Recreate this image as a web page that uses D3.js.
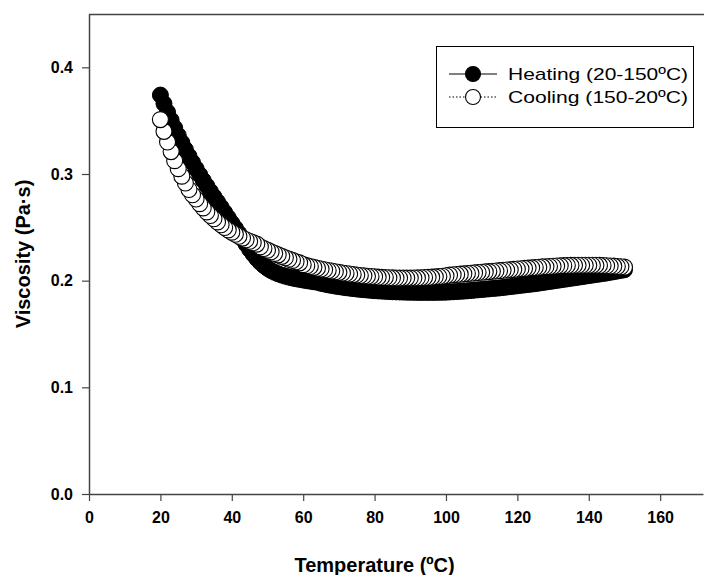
<!DOCTYPE html>
<html>
<head>
<meta charset="utf-8">
<script src="https://cdn.jsdelivr.net/npm/d3@7"></script>
<style>
  body { margin: 0; background: #fff; }
  svg { display: block; }
  text { font-family: "Liberation Sans", Arial, sans-serif; }
</style>
</head>
<body>
<svg id="chart" width="704" height="575"></svg>
<script>
// Temperatures of the measurement points (ºC)
const temperatures = [
  20,21,22,23,24,25,26,27,28,29,30,31,32,33,34,35,36,37,38,39,
  40,41,42,43,44,45,46,47,48,49,50,51,52,53,54,55,56,57,58,59,
  60,61,62,63,64,65,66,67,68,69,70,71,72,73,74,75,76,77,78,79,
  80,81,82,83,84,85,86,87,88,89,90,91,92,93,94,95,96,97,98,99,
  100,101,102,103,104,105,106,107,108,109,110,111,112,113,114,115,116,117,118,119,
  120,121,122,123,124,125,126,127,128,129,130,131,132,133,134,135,136,137,138,139,
  140,141,142,143,144,145,146,147,148,149,150
];

// Viscosity (Pa·s) on heating, one value per temperature above
const heating = [
  .374,.366,.358,.3505,.3432,.3362,.3295,.323,.3168,.3108,.305,.2994,.294,.2888,.2837,.2787,.2738,.2689,.264,.259,
  .254,.2492,.2442,.2392,.2342,.2293,.2248,.2207,.2171,.2141,.2116,.2095,.2078,.2064,.2052,.2042,.2033,.2025,.2018,.2012,
  .2006,.2,.1995,.199,.1985,.1975,.1968,.1961,.1955,.1949,.1944,.1939,.1934,.193,.1926,.1922,.1918,.1915,.1912,.1909,
  .1906,.1904,.1902,.19,.1898,.1896,.1895,.1894,.1893,.1892,.1891,.1891,.189,.189,.189,.189,.189,.189,.1891,.1891,
  .1892,.1894,.1896,.1898,.19,.1902,.1905,.1908,.1911,.1914,.1917,.192,.1923,.1926,.1929,.1932,.1936,.194,.1944,.1948,
  .1952,.1956,.196,.1964,.1968,.1972,.1977,.1982,.1987,.1992,.1997,.2002,.2007,.2012,.2017,.2022,.2027,.2032,.2037,.2042,
  .2047,.2052,.2057,.2062,.2067,.2072,.2078,.2084,.209,.2096,.2102
];

// Viscosity (Pa·s) on cooling, listed by the same temperatures (run went 150 -> 20 ºC)
const cooling = [
  .351,.340,.330,.321,.3125,.305,.298,.2915,.2855,.2805,.2765,.2722,.2682,.2645,.2611,.258,.2551,.2524,.2499,.2476,
  .2455,.2435,.2416,.2399,.2384,.237,.2356,.2343,.2318,.2302,.2286,.2271,.2256,.2242,.2228,.2215,.2202,.219,.2178,.2167,
  .215,.2141,.2133,.2125,.2117,.211,.2103,.2096,.209,.2084,.2078,.2072,.2067,.2062,.2057,.2053,.2049,.2045,.2042,.2039,
  .2036,.2033,.2031,.2029,.2027,.2026,.2025,.2024,.2024,.2024,.2024,.2025,.2026,.2027,.2029,.2031,.2033,.2036,.2039,.2042,
  .2046,.2052,.2055,.2058,.2061,.2064,.2067,.207,.2073,.2076,.2079,.2082,.2085,.2088,.2091,.2094,.2097,.21,.2103,.2106,
  .2109,.2112,.2115,.2118,.212,.2123,.2126,.2129,.2131,.2133,.2135,.2137,.2139,.2141,.2142,.2143,.2144,.2145,.2145,.2145,
  .2145,.2145,.2144,.2143,.2142,.214,.2138,.2136,.2133,.213,.2127
];

const xTicks = [0, 20, 40, 60, 80, 100, 120, 140, 160];
const yTicks = [0.0, 0.1, 0.2, 0.3, 0.4];
const seriesNames = ["Heating (20-150ºC)", "Cooling (150-20ºC)"];

const svg = d3.select("#chart");
const plotLeft = 89, plotRight = 703, plotTop = 14, plotBottom = 494;

const x = d3.scaleLinear().domain([0, 172]).range([plotLeft, plotRight]);
const y = d3.scaleLinear().domain([0, 0.45]).range([plotBottom, plotTop]);

const axisColor = "#444";

// Frame line along the top
svg.append("line")
  .attr("x1", plotLeft).attr("x2", plotRight + 1)
  .attr("y1", plotTop + 0.5).attr("y2", plotTop + 0.5)
  .attr("stroke", axisColor).attr("stroke-width", 1.5);

// X axis
const gx = svg.append("g")
  .attr("transform", `translate(0,${plotBottom})`)
  .call(d3.axisBottom(x).tickValues(xTicks).tickSize(7).tickSizeOuter(0).tickPadding(11)
    .tickFormat(d3.format("d")));

// Y axis
const gy = svg.append("g")
  .attr("transform", `translate(${plotLeft},0)`)
  .call(d3.axisLeft(y).tickValues(yTicks).tickSize(7).tickSizeOuter(0).tickPadding(9)
    .tickFormat(d3.format(".1f")));

[gx, gy].forEach(g => {
  g.select(".domain").attr("stroke", axisColor).attr("stroke-width", 1.5);
  g.selectAll(".tick line").attr("stroke", axisColor).attr("stroke-width", 1.2);
  g.selectAll(".tick text")
    .attr("fill", "#000")
    .style("font-family", "'Liberation Sans', Arial, sans-serif")
    .style("font-weight", "bold")
    .style("font-size", "16px");
});

// Axis titles
svg.append("text")
  .attr("x", x(80)).attr("y", 572)
  .attr("text-anchor", "middle")
  .style("font-weight", "bold").style("font-size", "20px")
  .text("Temperature (ºC)");

svg.append("text")
  .attr("transform", `translate(30,${(plotTop + plotBottom) / 2}) rotate(-90)`)
  .attr("text-anchor", "middle")
  .style("font-weight", "bold").style("font-size", "20px")
  .text("Viscosity (Pa·s)");

const r = 8;

// Heating run: filled circles, drawn from 20 up to 150 ºC
const heatPts = temperatures.map((t, i) => ({ t, v: heating[i] }));
svg.append("g").selectAll("circle")
  .data(heatPts)
  .join("circle")
  .attr("cx", d => x(d.t)).attr("cy", d => y(d.v)).attr("r", r)
  .attr("fill", "#000").attr("stroke", "#000").attr("stroke-width", 1);

// Cooling run: open circles, drawn in run order from 150 down to 20 ºC
const coolPts = temperatures.map((t, i) => ({ t, v: cooling[i] })).reverse();
svg.append("g").selectAll("circle")
  .data(coolPts)
  .join("circle")
  .attr("cx", d => x(d.t)).attr("cy", d => y(d.v)).attr("r", r)
  .attr("fill", "#fff").attr("stroke", "#000").attr("stroke-width", 1.1);

// Legend
const lg = svg.append("g");
lg.append("rect")
  .attr("x", 436.5).attr("y", 46.5).attr("width", 257).attr("height", 81)
  .attr("fill", "#fff").attr("stroke", "#000").attr("stroke-width", 1);

const rows = [
  { name: seriesNames[0], fill: "#000", dash: null, yy: 74 },
  { name: seriesNames[1], fill: "#fff", dash: "1.5,2", yy: 97 }
];
rows.forEach(rw => {
  lg.append("line")
    .attr("x1", 449).attr("x2", 497).attr("y1", rw.yy).attr("y2", rw.yy)
    .attr("stroke", "#000").attr("stroke-width", 1)
    .attr("stroke-dasharray", rw.dash);
  lg.append("circle")
    .attr("cx", 473).attr("cy", rw.yy).attr("r", 7.5)
    .attr("fill", rw.fill).attr("stroke", "#000").attr("stroke-width", 1.1);
  lg.append("text")
    .attr("x", 508).attr("y", rw.yy).attr("dy", "0.36em")
    .attr("textLength", 180).attr("lengthAdjust", "spacingAndGlyphs")
    .style("font-size", "17px")
    .text(rw.name);
});
</script>
</body>
</html>
